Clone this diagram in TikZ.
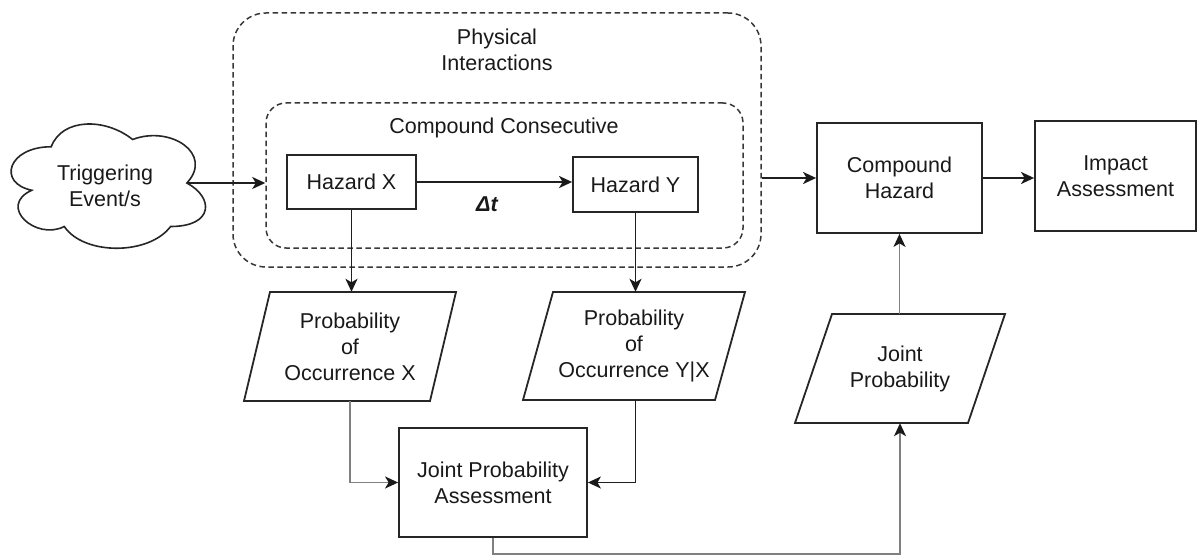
\documentclass[tikz,border=0pt]{standalone}
\usepackage{fontspec}
\setmainfont{Liberation Sans}
\usetikzlibrary{arrows.meta}
\begin{document}
\begin{tikzpicture}[x=1pt,y=-1pt,
  every node/.style={font=\fontsize{21.5}{26}\selectfont, text=black!90, align=center, inner sep=0pt},
  outline/.style={draw=black!85, line width=1.8pt, line join=miter},
  box/.style={rectangle, outline},
  txt/.style={rectangle},
  group/.style={rectangle, draw=black!78, line width=1.5pt, dash pattern=on 5.5pt off 3.5pt},
  flow/.style={line width=1.8pt, draw=black!88, -{Stealth[length=13pt,width=12pt,inset=3.5pt,color=black!90]}},
  softflow/.style={flow, draw=black!50}
]
\useasboundingbox (0,0) rectangle (1198,556);

% triggering cloud
\begin{scope}[shift={(-3,110.5)}, x=217pt, y=-145pt]
  \draw[outline, line width=1.6pt]
    (0.25,0.25) .. controls (0.05,0.25) and (0,0.5) .. (0.16,0.55)
    .. controls (0,0.66) and (0.18,0.9) .. (0.31,0.8)
    .. controls (0.4,1) and (0.7,1) .. (0.8,0.8)
    .. controls (1,0.8) and (1,0.6) .. (0.875,0.5)
    .. controls (1,0.3) and (0.8,0.1) .. (0.625,0.2)
    .. controls (0.5,0.05) and (0.3,0.05) .. (0.25,0.25) -- cycle;
  \coordinate (cloudR) at (0.875,0.5);
\end{scope}
\node[txt] (trig) at (105,186) {Triggering\\Event/s};

% grouping frames
\node[group, rounded corners=33pt, minimum width=528pt, minimum height=254pt] (phys) at (497,140) {};
\node[txt] (physlbl) at (497,49.5) {Physical\\Interactions};
\node[group, rounded corners=20pt, minimum width=477pt, minimum height=145pt] (cc) at (504.5,175.5) {};
\node[txt] (cclbl) at (504,127.5) {Compound Consecutive};

% hazards
\node[box, minimum width=129pt, minimum height=54pt] (hx) at (351.5,182) {Hazard X};
\node[box, minimum width=125pt, minimum height=55pt] (hy) at (635.5,184.5) {Hazard Y};
\node[txt] (dt) at (487,204) {\bfseries\itshape Δt};

% probabilities
\node[txt, minimum height=109pt] (px) at (350,346.5) {Probability\\of\\Occurrence X};
\draw[outline] (244,401) -- (270,292) -- (456,292) -- (430,401) -- cycle;
\node[txt, minimum height=108pt] (pyx) at (634,346) {Probability\\of\\Occurrence Y|X};
\draw[outline] (523,400) -- (553,292) -- (745,292) -- (715,400) -- cycle;
\node[box, minimum width=188pt, minimum height=109pt] (jpa) at (493,482.5) {Joint Probability\\Assessment};
\node[txt, minimum height=109pt] (jp) at (900,368.5) {Joint\\Probability};
\draw[outline] (795,423) -- (832,314) -- (1005,314) -- (968,423) -- cycle;

% outcome
\node[box, minimum width=165pt, minimum height=110pt] (ch) at (899.5,178) {Compound\\Hazard};
\node[box, minimum width=161pt, minimum height=110pt] (ia) at (1115.5,176) {Impact\\Assessment};

\coordinate (busY) at (700,554);

% connectors
\draw[flow] (cloudR) -- (cc.west |- cloudR);
\draw[flow] (hx.east) -- (hx.east -| hy.west);
\draw[flow] (hx.south) -- (hx.south |- px.north);
\draw[flow] (hy.south) -- (hy.south |- pyx.north);
\draw[softflow] (px.south) |- (jpa.west);
\draw[flow] (hy.south |- pyx.south) |- (jpa.east);
\draw[softflow] (jpa.south) -- (jpa.south |- busY) -| (jp.south);
\draw[softflow] (ch.south |- jp.north) -- (ch.south);
\draw[flow] (ch.west -| phys.east) -- (ch.west);
\draw[flow] (ch.east) -- (ch.east -| ia.west);
\end{tikzpicture}
\end{document}
